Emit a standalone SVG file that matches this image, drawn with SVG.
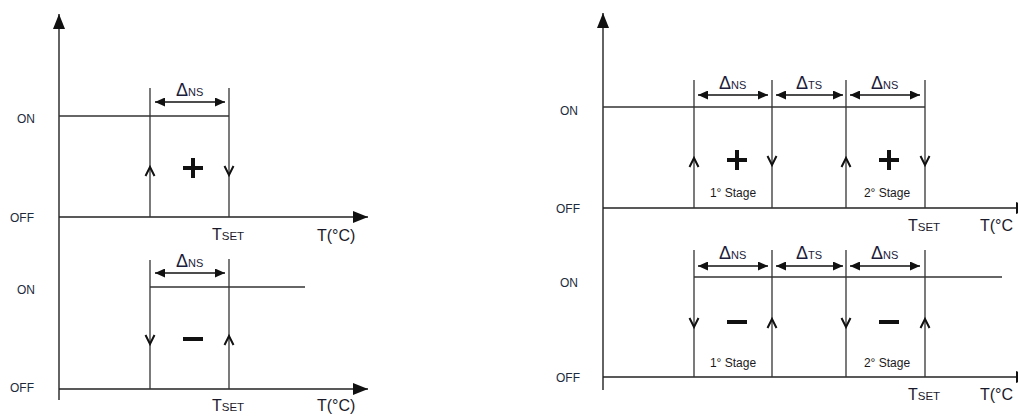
<svg xmlns="http://www.w3.org/2000/svg" width="1018" height="416" viewBox="0 0 1018 416">
<defs>
<marker id="axh" markerWidth="16" markerHeight="12" refX="15" refY="6" orient="auto" markerUnits="userSpaceOnUse"><path d="M0,0 L15,6 L0,12 Z" fill="#111"/></marker>
<marker id="dh" markerWidth="11" markerHeight="9" refX="10" refY="4.5" orient="auto-start-reverse" markerUnits="userSpaceOnUse"><path d="M0,0 L10,4.5 L0,9 Z" fill="#111"/></marker>
<path id="chevUp" d="M-4.5,5 L0,-4 L4.5,5" fill="none" stroke="#111" stroke-width="2"/>
<path id="chevDn" d="M-4.5,-5 L0,4 L4.5,-5" fill="none" stroke="#111" stroke-width="2"/>
</defs>
<style>
.ax{stroke:#222;stroke-width:1.4;fill:none}
.ln{stroke:#333;stroke-width:1.3;fill:none}
.dim{stroke:#111;stroke-width:1.3;fill:none}
.lbl{font-family:"Liberation Sans",Arial,sans-serif;font-size:12px;fill:#1c2a3a}
.d{font-family:"Liberation Sans",Arial,sans-serif;font-size:18px;fill:#1c1c3a}
.ds{font-size:11px}
.t{font-family:"Liberation Sans",Arial,sans-serif;font-size:16px;fill:#1a1a2a}
.ts{font-size:11.5px}
.st{font-family:"Liberation Sans",Arial,sans-serif;font-size:12px;fill:#1a1a1a}
.sign{stroke:#111;stroke-width:4;fill:none}
</style>
<rect width="1018" height="416" fill="#fff"/>

<g id="left-heating">
<line class="ax" x1="59" y1="400" x2="59" y2="14" marker-end="url(#axh)"/>
<line class="ax" x1="59" y1="217" x2="368" y2="217" marker-end="url(#axh)"/>
<line class="ln" x1="59" y1="116" x2="229" y2="116"/>
<line class="ln" x1="150" y1="88" x2="150" y2="217"/>
<line class="ln" x1="229" y1="88" x2="229" y2="217"/>
<line class="dim" x1="155" y1="102" x2="225" y2="102" marker-start="url(#dh)" marker-end="url(#dh)"/>
<text class="d" x="176" y="96">Δ<tspan class="ds">NS</tspan></text>
<use href="#chevUp" x="150" y="171"/>
<use href="#chevDn" x="229" y="171"/>
<path class="sign" d="M183,168 H203 M193,158 V178"/>
<text class="lbl" x="17" y="123">ON</text>
<text class="lbl" x="10" y="222">OFF</text>
<text class="t" x="212" y="240">T<tspan class="ts">SET</tspan></text>
<text class="t" x="317" y="241">T(°C)</text>
</g>

<g id="left-cooling">
<line class="ax" x1="59" y1="389" x2="368" y2="389" marker-end="url(#axh)"/>
<line class="ln" x1="150" y1="287" x2="305" y2="287"/>
<line class="ln" x1="150" y1="260" x2="150" y2="389"/>
<line class="ln" x1="229" y1="259" x2="229" y2="389"/>
<line class="dim" x1="155" y1="273" x2="225" y2="273" marker-start="url(#dh)" marker-end="url(#dh)"/>
<text class="d" x="176" y="267">Δ<tspan class="ds">NS</tspan></text>
<use href="#chevDn" x="150" y="340"/>
<use href="#chevUp" x="229" y="340"/>
<path class="sign" d="M183,339 H203"/>
<text class="lbl" x="17" y="294">ON</text>
<text class="lbl" x="10" y="392">OFF</text>
<text class="t" x="212" y="411">T<tspan class="ts">SET</tspan></text>
<text class="t" x="317" y="411">T(°C)</text>
</g>

<g id="right-heating">
<line class="ax" x1="603" y1="390" x2="603" y2="13" marker-end="url(#axh)"/>
<line class="ax" x1="603" y1="208" x2="1031" y2="208" marker-end="url(#axh)"/>
<line class="ln" x1="603" y1="107" x2="925" y2="107"/>
<line class="ln" x1="694" y1="80" x2="694" y2="208"/>
<line class="ln" x1="772" y1="80" x2="772" y2="208"/>
<line class="ln" x1="846" y1="80" x2="846" y2="208"/>
<line class="ln" x1="925" y1="80" x2="925" y2="208"/>
<line class="dim" x1="698" y1="95" x2="768" y2="95" marker-start="url(#dh)" marker-end="url(#dh)"/>
<line class="dim" x1="776" y1="95" x2="843" y2="95" marker-start="url(#dh)" marker-end="url(#dh)"/>
<line class="dim" x1="850" y1="95" x2="920" y2="95" marker-start="url(#dh)" marker-end="url(#dh)"/>
<text class="d" x="719" y="89">Δ<tspan class="ds">NS</tspan></text>
<text class="d" x="796" y="89">Δ<tspan class="ds">TS</tspan></text>
<text class="d" x="871" y="89">Δ<tspan class="ds">NS</tspan></text>
<use href="#chevUp" x="694" y="162"/>
<use href="#chevDn" x="772" y="161"/>
<use href="#chevUp" x="846" y="162"/>
<use href="#chevDn" x="925" y="161"/>
<path class="sign" d="M727,160 H747 M737,150 V170"/>
<path class="sign" d="M879,160 H899 M889,150 V170"/>
<text class="st" x="733" y="197" text-anchor="middle">1° Stage</text>
<text class="st" x="887" y="197" text-anchor="middle">2° Stage</text>
<text class="lbl" x="560" y="115">ON</text>
<text class="lbl" x="556" y="213">OFF</text>
<text class="t" x="908" y="231">T<tspan class="ts">SET</tspan></text>
<text class="t" x="980" y="231">T(°C</text>
</g>

<g id="right-cooling">
<line class="ax" x1="603" y1="377" x2="1031" y2="377" marker-end="url(#axh)"/>
<line class="ln" x1="694" y1="277" x2="1002" y2="277"/>
<line class="ln" x1="694" y1="250" x2="694" y2="377"/>
<line class="ln" x1="772" y1="250" x2="772" y2="377"/>
<line class="ln" x1="846" y1="250" x2="846" y2="377"/>
<line class="ln" x1="925" y1="250" x2="925" y2="377"/>
<line class="dim" x1="698" y1="266" x2="768" y2="266" marker-start="url(#dh)" marker-end="url(#dh)"/>
<line class="dim" x1="776" y1="266" x2="843" y2="266" marker-start="url(#dh)" marker-end="url(#dh)"/>
<line class="dim" x1="850" y1="266" x2="920" y2="266" marker-start="url(#dh)" marker-end="url(#dh)"/>
<text class="d" x="719" y="259">Δ<tspan class="ds">NS</tspan></text>
<text class="d" x="796" y="259">Δ<tspan class="ds">TS</tspan></text>
<text class="d" x="871" y="259">Δ<tspan class="ds">NS</tspan></text>
<use href="#chevDn" x="694" y="323"/>
<use href="#chevUp" x="772" y="323"/>
<use href="#chevDn" x="846" y="323"/>
<use href="#chevUp" x="925" y="323"/>
<path class="sign" d="M727,322 H747"/>
<path class="sign" d="M879,322 H899"/>
<text class="st" x="733" y="367" text-anchor="middle">1° Stage</text>
<text class="st" x="887" y="367" text-anchor="middle">2° Stage</text>
<text class="lbl" x="560" y="287">ON</text>
<text class="lbl" x="556" y="382">OFF</text>
<text class="t" x="908" y="400">T<tspan class="ts">SET</tspan></text>
<text class="t" x="980" y="400">T(°C</text>
</g>
</svg>
